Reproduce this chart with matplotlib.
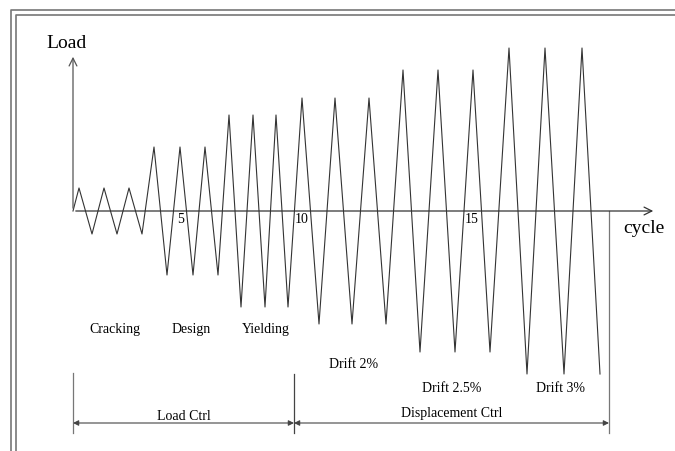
import matplotlib.pyplot as plt

plt.rcParams['font.family'] = ['Liberation Serif', 'DejaVu Serif']

# loading stages (3 cycles each) and their peak amplitudes
stages = ["Cracking", "Design", "Yielding", "Drift 2%", "Drift 2.5%", "Drift 3%"]
amplitude = [23, 64, 96, 113, 141, 163]

# positions of the peaks and troughs along the cycle axis
peak_x = [6, 31, 56, 81, 107, 132, 156, 180, 203,
          229, 262, 296, 330, 365, 400, 436, 472, 509]
trough_x = [19, 44, 69, 94, 120, 145, 168, 192, 215,
            246, 279, 313, 347, 382, 417, 454, 491, 527]

# cycle labels on the axis
tick_labels = ["5", "10", "15"]
tick_x = [108, 229, 399]

# stage label positions
stage_x = [42, 118, 193, 281, 379, 487]
stage_y = [-118, -118, -118, -153, -177, -177]

# control regions
ctrl_labels = ["Load Ctrl", "Displacement Ctrl"]
ctrl_bounds = [0, 221, 536]

# build the zigzag
xs = [0]
ys = [0]
for i in range(len(peak_x)):
    a = amplitude[i // 3]
    xs += [peak_x[i], trough_x[i]]
    ys += [a, -a]

fig = plt.figure(figsize=(6.75, 4.51), dpi=100)
ax = fig.add_axes([0, 0, 1, 1])
ax.set_xlim(-73, 602)
ax.set_ylim(-240, 211)
ax.axis('off')

# double frame
for off in [0, 5]:
    ax.plot([-62 + off, -62 + off, 610], [-245, 201 - off, 201 - off],
            color='#777777', lw=1.2, clip_on=True)

# axes arrows
ax.annotate('', xy=(0, 157), xytext=(0, 0),
            arrowprops=dict(arrowstyle='->', color='#555555', lw=0.9, mutation_scale=14))
ax.annotate('', xy=(583, 0), xytext=(0, 0),
            arrowprops=dict(arrowstyle='->', color='#333333', lw=0.9, mutation_scale=14))
ax.text(-6, 168, "Load", fontsize=14, ha='center', va='center')
ax.text(571, -17, "cycle", fontsize=14, ha='center', va='center')

ax.plot(xs, ys, color='#333333', lw=0.8)

for lab, x in zip(tick_labels, tick_x):
    ax.text(x, -8, lab, fontsize=10, ha='center', va='center')

for lab, x, y in zip(stages, stage_x, stage_y):
    ax.text(x, y, lab, fontsize=10, ha='center', va='center')

# dimension lines
ax.plot([ctrl_bounds[0]] * 2, [-162, -222], color='#777777', lw=0.9)
ax.plot([ctrl_bounds[1]] * 2, [-163, -222], color='#444444', lw=0.9)
ax.plot([ctrl_bounds[2]] * 2, [0, -222], color='#777777', lw=0.9)
for i, lab in enumerate(ctrl_labels):
    x0, x1 = ctrl_bounds[i], ctrl_bounds[i + 1]
    ax.annotate('', xy=(x1, -212), xytext=(x0, -212),
                arrowprops=dict(arrowstyle='<|-|>', color='#444444', lw=0.8,
                                mutation_scale=8, shrinkA=0, shrinkB=0))
ax.text(111, -206, ctrl_labels[0], fontsize=10, ha='center', va='center')
ax.text(379, -202, ctrl_labels[1], fontsize=10, ha='center', va='center')

plt.savefig("out.png", dpi=100)
